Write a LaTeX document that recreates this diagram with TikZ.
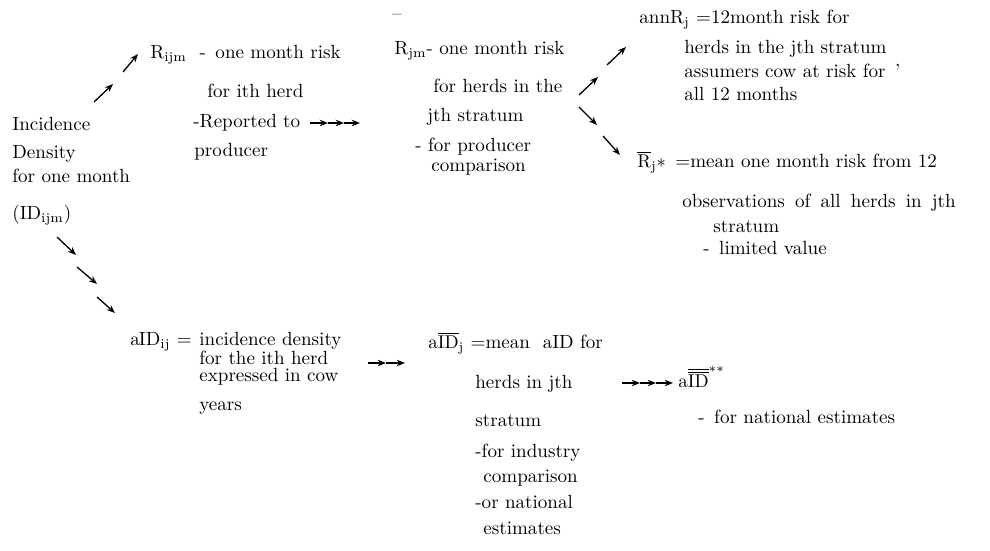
\documentclass[tikz,border=0pt]{standalone}
\usepackage{amsmath}
\usepackage{tikz}
\usetikzlibrary{positioning, arrows.meta}

\begin{document}
\begin{tikzpicture}[
      x=0.54pt, y=-0.54pt,
      txt/.style={anchor=base west, inner sep=0pt, font=\fontsize{10.3}{12}\selectfont},
      wide/.style={txt, execute at begin node={\spaceskip=5.5pt\relax}},
      block/.style={anchor=north west, inner sep=0pt, align=left, font=\fontsize{10.3}{9}\selectfont},
      arr/.style={-{Stealth[length=4.5pt, width=3.5pt]}, line width=0.7pt}
    ]
    \useasboundingbox (0,0) rectangle (990,551);

    % Incidence density
    \node[txt] (inc) at (12,131) {Incidence};
    \node[txt] (dens) at (12,159) {Density};
    \node[txt] (month) at (12,183) {for one month};
    \node[txt] (idijm) at (12,220) {(ID\textsubscript{ijm})};

    % One month risk per herd
    \node[txt] (rijm) at (150,59) {R\textsubscript{ijm} \ - \,one month risk};
    \node[txt] (rijm2) at (207,98) {for ith herd};
    \node[txt] (rijm3) at (193,128) {-Reported to};
    \node[txt] (rijm4) at (194,157) {producer};

    % One month risk per stratum
    \node[inner sep=0pt] (rbar) at (397,17) {\textendash};
    \node[txt] (rjm) at (394,55) {R\textsubscript{jm}- one month risk};
    \node[txt] (rjm2) at (433,93) {for herds in the};
    \node[txt] (rjm3) at (427,122) {jth stratum};
    \node[txt] (rjm4) at (415,152) {- for producer};
    \node[txt] (rjm5) at (431,172) {comparison};

    % Annual risk
    \node[txt] (annr) at (639,24) {annR\textsubscript{j} =12month risk for};
    \node[txt] (annr2) at (684,54) {herds in the jth stratum};
    \node[txt] (annr3) at (684,78) {assumers cow at risk for \,'};
    \node[txt] (annr4) at (684,101) {all 12 months};

    % Mean one month risk
    \node[txt] (rmean) at (637,168) {$\overline{\mathrm{R}}$\textsubscript{j}$\ast$ \,=mean one month risk from 12};
    \node[wide] (rmean2) at (682,208) {observations of all herds in jth};
    \node[txt] (rmean3) at (713,233) {stratum};
    \node[txt] (rmean4) at (703,255) {- \,limited value};

    % Incidence density per herd
    \node[txt] (aidij) at (130,346) {a\kern-0.5pt ID\textsubscript{ij} =};
    \node[block] (aidij1) at (199,332) {incidence density\\for the ith herd\\expressed in cow};
    \node[txt] (aidij4) at (199,411) {years};

    % Mean incidence density per stratum
    \node[txt] (aidj) at (428,349) {a$\overline{\mathrm{I}}\overline{\mathrm{D}}$\textsubscript{j} =mean \ aID for};
    \node[txt] (aidj2) at (475,389) {herds in jth};
    \node[txt] (aidj3) at (475,427) {stratum};
    \node[txt] (aidj4) at (475,458) {-for industry};
    \node[txt] (aidj5) at (483,483) {comparison};
    \node[txt] (aidj6) at (475,509) {-or national};
    \node[txt] (aidj7) at (483,535) {estimates};

    % National incidence density
    \node[txt] (aidn) at (678,388) {a$\overline{\overline{\mathrm{I}}}\overline{\overline{\mathrm{D}}}^{**}$};
    \node[txt] (aidn2) at (698,424) {- \,for national estimates};

    % Arrows up from incidence density
    \coordinate (u1) at (94,102);
    \coordinate (u2) at (113,84);
    \coordinate (u3) at (123,72);
    \coordinate (u4) at (138,54);
    \draw[arr] (u1) -- (u2);
    \draw[arr] (u3) -- (u4);

    % Arrows down from incidence density
    \coordinate (d1) at (57,237);
    \coordinate (d2) at (76,255);
    \coordinate (d3) at (77,267);
    \coordinate (d4) at (97,284);
    \coordinate (d5) at (97,297);
    \coordinate (d6) at (115,313);
    \draw[arr] (d1) -- (d2);
    \draw[arr] (d3) -- (d4);
    \draw[arr] (d5) -- (d6);

    % Reported to chain
    \coordinate (c1) at (310,123);
    \coordinate (c2) at (328,123);
    \coordinate (c3) at (344,123);
    \coordinate (c4) at (360,123);
    \draw[arr] (c1) -- (c2);
    \draw[arr] (c2) -- (c3);
    \draw[arr] (c3) -- (c4);

    % Fork to annual and mean risk
    \coordinate (f1) at (579,95);
    \coordinate (f2) at (598,77);
    \coordinate (f3) at (607,65);
    \coordinate (f4) at (626,47);
    \draw[arr] (f1) -- (f2);
    \draw[arr] (f3) -- (f4);
    \coordinate (g1) at (579,107);
    \coordinate (g2) at (597,125);
    \coordinate (g3) at (603,136);
    \coordinate (g4) at (620,155);
    \draw[arr] (g1) -- (g2);
    \draw[arr] (g3) -- (g4);

    % Herd to stratum chain
    \coordinate (h1) at (368,363);
    \coordinate (h2) at (386,363);
    \coordinate (h3) at (405,363);
    \draw[arr] (h1) -- (h2);
    \draw[arr] (h2) -- (h3);

    % Stratum to national chain
    \coordinate (n1) at (622,383);
    \coordinate (n2) at (640,383);
    \coordinate (n3) at (656,383);
    \coordinate (n4) at (673,383);
    \draw[arr] (n1) -- (n2);
    \draw[arr] (n2) -- (n3);
    \draw[arr] (n3) -- (n4);

  \end{tikzpicture}
\end{document}
